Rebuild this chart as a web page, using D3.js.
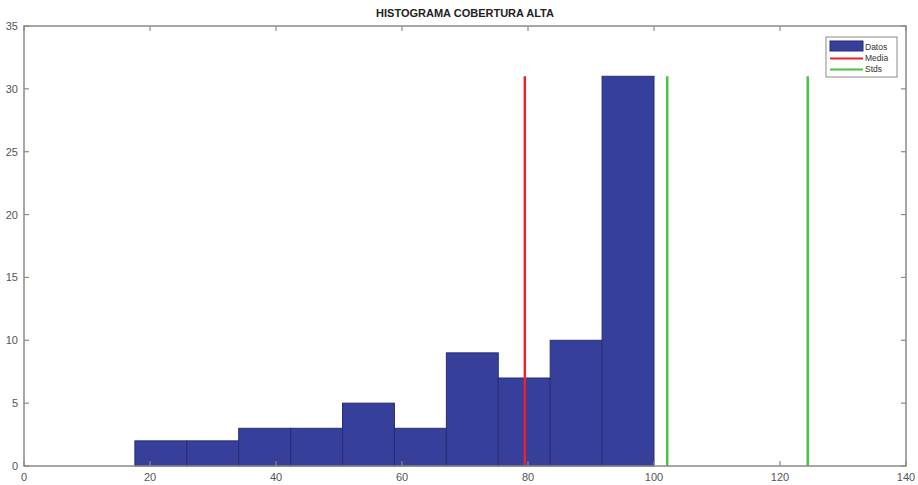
<!DOCTYPE html>
<html lang="es">
<head>
    <meta charset="utf-8">
    <title>Histograma cobertura alta</title>
    <script src="https://d3js.org/d3.v7.min.js"></script>
    <style>
        body { margin: 0; background: #fff; }
        text { font-family: "Liberation Sans", Arial, sans-serif; }
    </style>
</head>
<body>
<script>
    const binEdges = [17.6, 25.84, 34.08, 42.32, 50.56, 58.8, 67.04, 75.28, 83.52, 91.76, 100.0];
    const counts   = [2, 2, 3, 3, 5, 3, 9, 7, 10, 31];
    const mediaX   = 79.5;
    const stdsX    = [102.1, 124.4];
    const lineTop  = 31;
    const xTicks   = [0, 20, 40, 60, 80, 100, 120, 140];
    const yTicks   = [0, 5, 10, 15, 20, 25, 30, 35];
    const legendLabels = ["Datos", "Media", "Stds"];

    const W = 918, H = 485;
    const margin = {left: 24, right: 12, top: 26, bottom: 19};
    const pw = W - margin.left - margin.right;
    const ph = H - margin.top - margin.bottom;

    const svg = d3.select("body").append("svg")
        .attr("width", W).attr("height", H);
    const g = svg.append("g")
        .attr("transform", `translate(${margin.left},${margin.top})`);

    const x = d3.scaleLinear().domain([0, 140]).range([0, pw]);
    const y = d3.scaleLinear().domain([0, 35]).range([ph, 0]);

    const bins = counts.map((c, i) => ({x0: binEdges[i], x1: binEdges[i + 1], n: c}));

    // barras
    g.selectAll("rect.bar").data(bins).enter().append("rect")
        .attr("class", "bar")
        .attr("x", d => x(d.x0))
        .attr("y", d => y(d.n))
        .attr("width", d => x(d.x1) - x(d.x0))
        .attr("height", d => y(0) - y(d.n))
        .attr("fill", "#363f99")
        .attr("stroke", "#262d78")
        .attr("stroke-width", 1);

    // media y desviaciones
    g.append("line")
        .attr("x1", x(mediaX)).attr("x2", x(mediaX))
        .attr("y1", y(0)).attr("y2", y(lineTop))
        .attr("stroke", "#e8232d").attr("stroke-width", 2.5);
    g.selectAll("line.std").data(stdsX).enter().append("line")
        .attr("class", "std")
        .attr("x1", d => x(d)).attr("x2", d => x(d))
        .attr("y1", y(0)).attr("y2", y(lineTop))
        .attr("stroke", "#4dc23f").attr("stroke-width", 2.5);

    // ejes (estilo caja, ticks hacia dentro)
    const axisColor = "#8a8a8a";
    const tickLen = 5;
    const axG = g.append("g");
    axG.append("rect")
        .attr("x", 0).attr("y", 0).attr("width", pw).attr("height", ph)
        .attr("fill", "none").attr("stroke", axisColor).attr("stroke-width", 1.5);

    xTicks.forEach(t => {
        axG.append("line").attr("x1", x(t)).attr("x2", x(t))
            .attr("y1", ph).attr("y2", ph - tickLen)
            .attr("stroke", axisColor).attr("stroke-width", 1.2);
        axG.append("line").attr("x1", x(t)).attr("x2", x(t))
            .attr("y1", 0).attr("y2", tickLen)
            .attr("stroke", axisColor).attr("stroke-width", 1.2);
        axG.append("text").attr("x", x(t)).attr("y", ph + 15)
            .attr("text-anchor", "middle").attr("font-size", 11)
            .attr("fill", "#555").text(t);
    });
    yTicks.forEach(t => {
        axG.append("line").attr("x1", 0).attr("x2", tickLen)
            .attr("y1", y(t)).attr("y2", y(t))
            .attr("stroke", axisColor).attr("stroke-width", 1.2);
        axG.append("line").attr("x1", pw).attr("x2", pw - tickLen)
            .attr("y1", y(t)).attr("y2", y(t))
            .attr("stroke", axisColor).attr("stroke-width", 1.2);
        axG.append("text").attr("x", -6).attr("y", y(t) + 4)
            .attr("text-anchor", "end").attr("font-size", 11)
            .attr("fill", "#555").text(t);
    });

    // titulo
    svg.append("text")
        .attr("x", margin.left + pw / 2).attr("y", 17)
        .attr("text-anchor", "middle").attr("font-size", 11)
        .attr("font-weight", "bold").attr("fill", "#222")
        .text("HISTOGRAMA COBERTURA ALTA");

    // leyenda
    const lg = svg.append("g").attr("transform", "translate(826,37)");
    lg.append("rect").attr("width", 71).attr("height", 40)
        .attr("fill", "#fff").attr("stroke", "#8a8a8a").attr("stroke-width", 1);
    lg.append("rect").attr("x", 4).attr("y", 4).attr("width", 33).attr("height", 10)
        .attr("fill", "#363f99").attr("stroke", "#262d78");
    lg.append("line").attr("x1", 4).attr("x2", 37).attr("y1", 21.5).attr("y2", 21.5)
        .attr("stroke", "#e8232d").attr("stroke-width", 2);
    lg.append("line").attr("x1", 4).attr("x2", 37).attr("y1", 32.5).attr("y2", 32.5)
        .attr("stroke", "#4dc23f").attr("stroke-width", 2);
    lg.selectAll("text.lab").data(legendLabels).enter().append("text")
        .attr("class", "lab")
        .attr("x", 39).attr("y", (d, i) => 12.5 + i * 11)
        .attr("font-size", 8.5).attr("fill", "#333")
        .text(d => d);
</script>
</body>
</html>
